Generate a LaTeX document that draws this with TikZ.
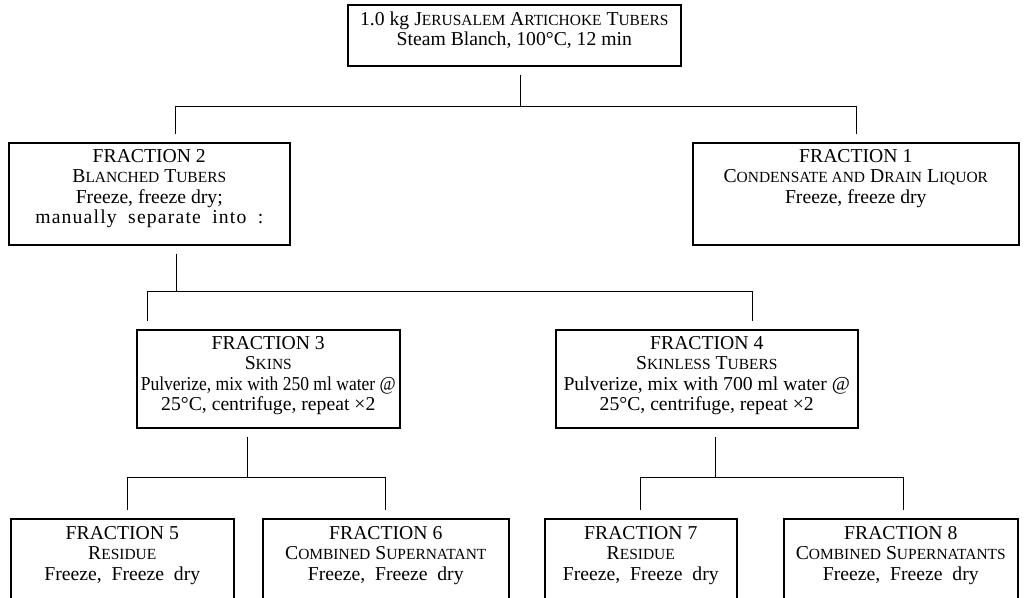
\documentclass[tikz,border=0pt]{standalone}
\usepackage{graphicx}
\usepackage{fontspec}
\setmainfont{Liberation Serif}
\newlength\upx \setlength\upx{0.25mm}
\newcommand\mainfs{\fontsize{14pt}{14.6pt}\selectfont}
\newcommand\fsc[1]{{\fontsize{11pt}{14.6pt}\selectfont #1}}
\newcommand\wide[1]{{\spaceskip=0.5em plus 0.2em\relax #1}}
\newcommand\boxtxt[4]{\parbox[t][#2\upx][t]{#1\upx}{\centering\vspace*{#3\upx}\strut #4\par}}
\begin{document}
\begin{tikzpicture}[x=0.25mm,y=-0.25mm,
  box/.style={draw, line width=1.1pt, inner sep=0pt, anchor=north west, font=\mainfs},
  conn/.style={line width=0.6pt},
  gs/.style={shorten <=2mm}, ge/.style={shorten >=2mm}]
\path[use as bounding box] (0,0) rectangle (1024,597);
\clip (0,0) rectangle (1024,597);
% boxes
\node[box] (T) at (347,4) {\boxtxt{333}{61}{6}{1.0 kg J\fsc{ERUSALEM} A\fsc{RTICHOKE} T\fsc{UBERS}\\ Steam Blanch, 100°C, 12 min}};
\node[box] (F2) at (8,142) {\boxtxt{281}{102}{5}{FRACTION 2\\ B\fsc{LANCHED} T\fsc{UBERS}\\ Freeze, freeze dry;\\ \makebox[228\upx][s]{\addfontfeatures{LetterSpace=6}manually separate into :}}};
\node[box] (F1) at (692,142) {\boxtxt{326}{102}{5}{FRACTION 1\\ C\fsc{ONDENSATE AND} D\fsc{RAIN} L\fsc{IQUOR}\\ Freeze, freeze dry}};
\node[box] (F3) at (136,329) {\boxtxt{263}{98}{5}{FRACTION 3\\ S\fsc{KINS}\\ \scalebox{0.89}[1]{Pulverize, mix with 250 ml water @}\\ 25°C, centrifuge, repeat ×2}};
\node[box] (F4) at (555,329) {\boxtxt{302}{98}{5}{FRACTION 4\\ S\fsc{KINLESS} T\fsc{UBERS}\\ Pulverize, mix with 700 ml water @\\ 25°C, centrifuge, repeat ×2}};
\node[box] (F5) at (10,518) {\boxtxt{223}{130}{6}{FRACTION 5\\ R\fsc{ESIDUE}\\ \wide{Freeze, Freeze dry}}};
\node[box] (F6) at (262,518) {\boxtxt{246}{130}{6}{FRACTION 6\\ C\fsc{OMBINED} S\fsc{UPERNATANT}\\ \wide{Freeze, Freeze dry}}};
\node[box] (F7) at (544,518) {\boxtxt{192}{130}{6}{FRACTION 7\\ R\fsc{ESIDUE}\\ \wide{Freeze, Freeze dry}}};
\node[box] (F8) at (783,518) {\boxtxt{234}{130}{6}{FRACTION 8\\ C\fsc{OMBINED} S\fsc{UPERNATANTS}\\ \wide{Freeze, Freeze dry}}};
% first split
\coordinate (a1) at (520,106); \coordinate (aL) at (175,106); \coordinate (aR) at (856,106);
\draw[conn,gs] (T.south -| a1) -- (a1);
\draw[conn] (aL) -- (aR);
\draw[conn,ge] (aL) -- (aL |- F2.north);
\draw[conn,ge] (aR) -- (aR |- F1.north);
% second split
\coordinate (b1) at (176,291); \coordinate (bL) at (147,291); \coordinate (bR) at (752,291);
\draw[conn,gs] (F2.south -| b1) -- (b1);
\draw[conn] (bL) -- (bR);
\draw[conn,ge] (bL) -- (bL |- F3.north);
\draw[conn,ge] (bR) -- (bR |- F4.north);
% third split (skins)
\coordinate (c1) at (247,477); \coordinate (cL) at (127,477); \coordinate (cR) at (385,477);
\draw[conn,gs] (F3.south -| c1) -- (c1);
\draw[conn] (cL) -- (cR);
\draw[conn,ge] (cL) -- (cL |- F5.north);
\draw[conn,ge] (cR) -- (cR |- F6.north);
% fourth split (skinless)
\coordinate (d1) at (715,477); \coordinate (dL) at (640,477); \coordinate (dR) at (903,477);
\draw[conn,gs] (F4.south -| d1) -- (d1);
\draw[conn] (dL) -- (dR);
\draw[conn,ge] (dL) -- (dL |- F7.north);
\draw[conn,ge] (dR) -- (dR |- F8.north);
\end{tikzpicture}
\end{document}
